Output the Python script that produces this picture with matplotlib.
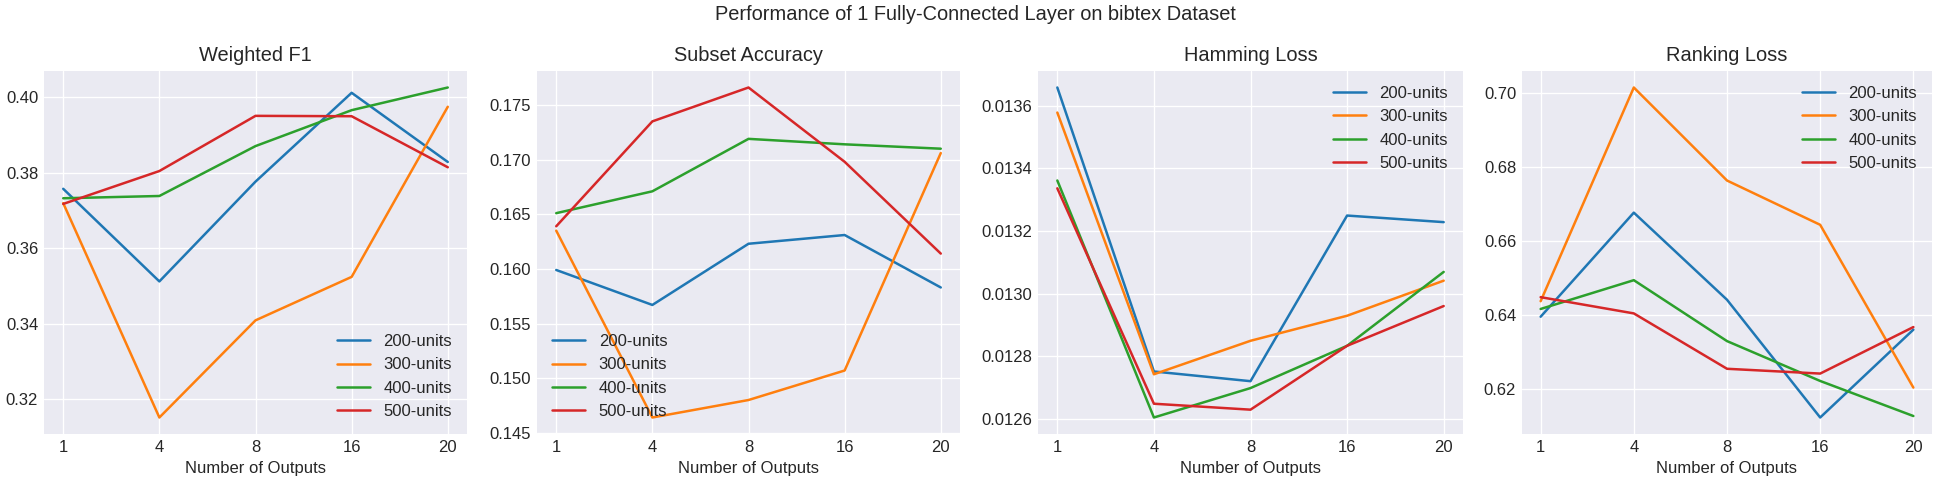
import numpy as np
import matplotlib.pyplot as plt

plt.style.use('seaborn-v0_8-darkgrid')
plt.rcParams['font.family'] = ['Liberation Sans', 'DejaVu Sans']

outputs = ['1', '4', '8', '16', '20']
units = ['200-units', '300-units', '400-units', '500-units']

weighted_f1 = {
    '200-units': [0.3757, 0.3512, 0.3776, 0.4011, 0.3828],
    '300-units': [0.3719, 0.3152, 0.3409, 0.3524, 0.3974],
    '400-units': [0.3732, 0.3738, 0.3870, 0.3965, 0.4025],
    '500-units': [0.3717, 0.3804, 0.3950, 0.3949, 0.3814],
}
subset_acc = {
    '200-units': [0.1599, 0.1567, 0.1623, 0.1631, 0.1583],
    '300-units': [0.1635, 0.1464, 0.1480, 0.1507, 0.1706],
    '400-units': [0.1651, 0.1671, 0.1719, 0.1714, 0.1710],
    '500-units': [0.1639, 0.1735, 0.1766, 0.1698, 0.1614],
}
hamming = {
    '200-units': [0.013658, 0.012751, 0.012720, 0.013249, 0.013228],
    '300-units': [0.013578, 0.012742, 0.012849, 0.012929, 0.013041],
    '400-units': [0.013361, 0.012604, 0.012698, 0.012833, 0.013069],
    '500-units': [0.013336, 0.012648, 0.012629, 0.012833, 0.012960],
}
ranking = {
    '200-units': [0.6395, 0.6677, 0.6441, 0.6122, 0.6360],
    '300-units': [0.6437, 0.7016, 0.6764, 0.6644, 0.6203],
    '400-units': [0.6416, 0.6494, 0.6329, 0.6221, 0.6126],
    '500-units': [0.6448, 0.6404, 0.6254, 0.6241, 0.6367],
}

panels = [('Weighted F1', weighted_f1, 'lower right'),
          ('Subset Accuracy', subset_acc, 'lower left'),
          ('Hamming Loss', hamming, 'upper right'),
          ('Ranking Loss', ranking, 'upper right')]

fig = plt.figure(figsize=(1950 / 120, 487 / 120), dpi=120)
lefts = [44, 537, 1038, 1522]
widths = [423, 423, 425, 410]
x = np.arange(len(outputs))
for (title, data, loc), l, w in zip(panels, lefts, widths):
    ax = fig.add_axes([l / 1950, 53 / 487, w / 1950, 363 / 487])
    for u in units:
        ax.plot(x, data[u], label=u)
    ax.set_xticks(x)
    ax.set_xticklabels(outputs)
    ax.set_title(title)
    ax.set_xlabel('Number of Outputs')
    ax.legend(loc=loc)

fig.suptitle('Performance of 1 Fully-Connected Layer on bibtex Dataset', y=0.99)
plt.savefig('out.png')
